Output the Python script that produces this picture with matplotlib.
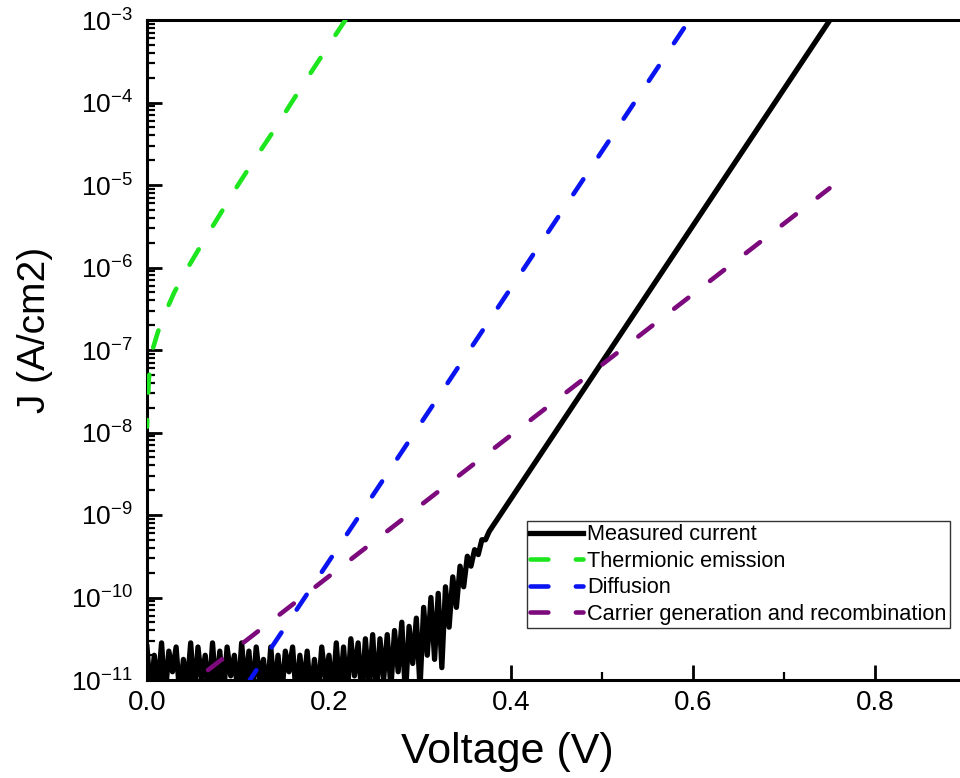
import numpy as np
import matplotlib
matplotlib.use("Agg")
import matplotlib.pyplot as plt
from matplotlib.ticker import MultipleLocator, LogLocator, NullFormatter

plt.rcParams["font.family"] = ["Liberation Sans", "DejaVu Sans"]
plt.rcParams["mathtext.default"] = "regular"

# measured current: noisy floor sampled every 4 mV, exponents of J (A/cm2)
meas_step = 0.004
meas_noise_exp = [
    -10.6, -11.2, -10.7, -11.1, -10.55, -11.2, -10.65, -10.9, -10.6, -11.2,
    -10.75, -11.1, -10.55, -11.2, -10.6, -11.0, -10.7, -11.2, -10.55, -11.15,
    -10.65, -11.2, -10.6, -10.95, -10.7, -11.2, -10.55, -11.1, -10.65, -11.2,
    -10.6, -11.0, -10.75, -11.2, -10.6, -11.15, -10.7, -11.2, -10.65, -10.9,
    -10.6, -11.2, -10.7, -11.1, -10.65, -11.2, -10.75, -11.2, -10.6, -11.0,
    -10.7, -11.2, -10.55, -11.15, -10.6, -11.2, -10.5, -10.95, -10.55, -11.2,
    -10.5, -11.1, -10.45, -11.2, -10.5, -11.0,
    -10.45, -11.1, -10.4, -10.9, -10.3, -11.2, -10.35, -10.8, -10.25, -11.1,
    -10.12, -10.7, -10.0, -10.75, -9.95, -10.85, -9.87, -10.36, -9.75, -10.12,
    -9.62, -9.87, -9.5, -9.62, -9.42, -9.48, -9.3, -9.3, -9.2,
]
meas_tail_v = [0.7505]
meas_tail_exp = [-3.0]

# thermionic emission
te_v = [0.0, 0.002, 0.006, 0.012, 0.020, 0.030, 0.045, 0.060, 0.080, 0.100,
        0.120, 0.140, 0.160, 0.180, 0.200, 0.218]
te_exp = [-7.93, -7.35, -7.0, -6.78, -6.55, -6.3, -6.0, -5.72, -5.36, -5.0,
          -4.66, -4.33, -3.98, -3.64, -3.3, -3.0]

# diffusion
dif_v = [0.113, 0.590]
dif_exp = [-11.0, -3.1]

# generation / recombination
gr_v = [0.067, 0.750]
gr_exp = [-10.88, -5.04]

meas_v = list(np.arange(len(meas_noise_exp)) * meas_step) + meas_tail_v
meas_j = 10.0 ** np.array(meas_noise_exp + meas_tail_exp)

fig = plt.figure(figsize=(9.6, 7.78), dpi=100)
ax = fig.add_axes([147 / 960, 1 - 680 / 778, 1 - 147 / 960, 660 / 778])

dkw = dict(lw=3.3, dashes=(3.9, 6.0), dash_capstyle="round", zorder=3)
ax.plot(meas_v, meas_j, color="black", lw=3.8, label="Measured current", zorder=2)
# model curves drawn from the upper end so the dash pattern starts at the top
ax.plot(te_v[::-1], 10.0 ** np.array(te_exp[::-1]), color="#1ee61e",
        label="Thermionic emission", **dkw)
ax.plot(dif_v[::-1], 10.0 ** np.array(dif_exp[::-1]), color="#0a14f0",
        label="Diffusion", **dkw)
ax.plot(gr_v, 10.0 ** np.array(gr_exp), color="#7d0a7d",
        label="Carrier generation and recombination", **dkw)

ax.set_yscale("log")
ax.set_xlim(0, 813 / 910)
ax.set_ylim(1e-11, 1e-3)

ax.xaxis.set_major_locator(MultipleLocator(0.2))
ax.xaxis.set_minor_locator(MultipleLocator(0.1))
ax.xaxis.set_major_formatter(plt.FuncFormatter(lambda v, p: f"{v:.1f}"))
ax.yaxis.set_major_locator(LogLocator(base=10, numticks=20))
ax.yaxis.set_minor_locator(LogLocator(base=10, subs=np.arange(2, 10), numticks=20))
ax.yaxis.set_minor_formatter(NullFormatter())

ax.tick_params(which="major", direction="in", length=11, width=2,
               top=False, right=False)
ax.tick_params(axis="x", which="major", labelsize=20, pad=7)
ax.tick_params(axis="y", which="major", labelsize=19, pad=10)
ax.tick_params(which="minor", direction="in", length=6, width=1.6,
               top=False, right=False)
for s in ["left", "bottom", "top"]:
    ax.spines[s].set_linewidth(2.2)
ax.spines["right"].set_visible(False)

ax.set_xlabel("Voltage (V)", fontsize=31, va="center")
ax.set_ylabel("J (A/cm2)", fontsize=28, va="center")
ax.xaxis.set_label_coords(0.443, -0.109)
ax.yaxis.set_label_coords(-0.138, 0.53)

leg = ax.legend(loc="upper left", bbox_to_anchor=(527 / 960, 1 - 521 / 778),
                bbox_transform=fig.transFigure, fontsize=15.7, frameon=True,
                fancybox=False, borderaxespad=0, handlelength=2.4,
                handletextpad=0.2, labelspacing=0.25, borderpad=0.15)
leg.get_frame().set_edgecolor("black")
leg.get_frame().set_linewidth(1.0)

fig.savefig("out.png", dpi=100)
